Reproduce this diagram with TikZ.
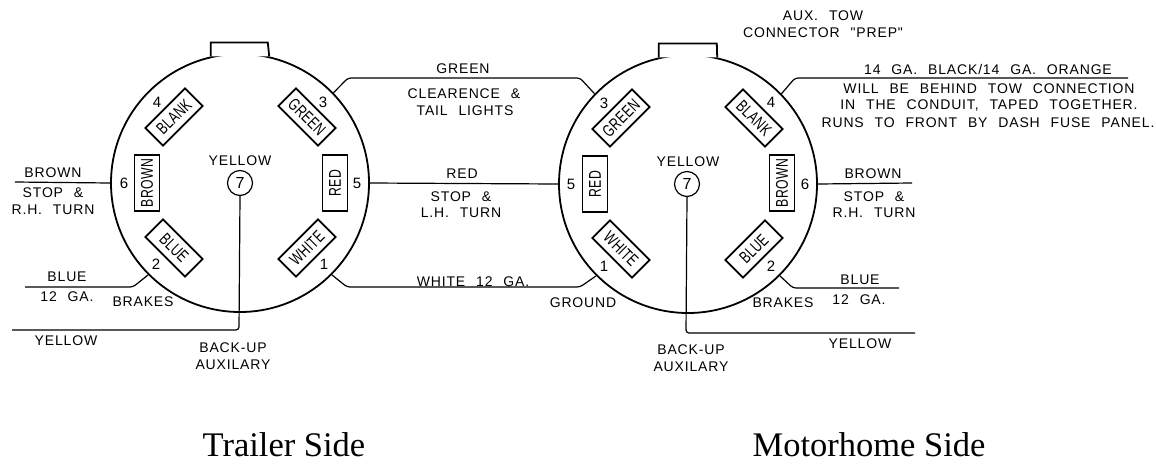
\documentclass[tikz,border=0pt]{standalone}
\usepackage{fontspec}
\setmainfont{Liberation Serif}
\newfontfamily\wirefont[LetterSpace=6,WordSpace=2.3]{Liberation Sans}
\newfontfamily\slotfont[FakeStretch=0.72,LetterSpace=2]{Liberation Sans}

\begin{document}
\begin{tikzpicture}[x=1pt,y=-1pt,line width=1.2pt]
	\tikzstyle{body} = [circle, draw=black, line width=1.8pt, minimum size=258pt, inner sep=0pt]
	\tikzstyle{slot} = [rectangle, draw=black, line width=1.8pt, minimum width=56pt, minimum height=25pt, inner sep=0pt, font=\slotfont\fontsize{17}{17}\selectfont]
	\tikzstyle{socket} = [circle, draw=black, minimum size=25pt, inner sep=0pt, font=\wirefont\fontsize{16}{16}\selectfont]
	\tikzstyle{num} = [inner sep=0pt, font=\wirefont\fontsize{15}{15}\selectfont]
	\tikzstyle{txt} = [inner sep=0pt, font=\wirefont\fontsize{14}{14}\selectfont]
	\tikzstyle{caption} = [inner sep=0pt, anchor=base, font=\fontsize{34.5}{34.5}\selectfont]
	\tikzstyle{wire} = [rounded corners=3pt]

	\useasboundingbox (0,0) rectangle (1156,464);

	% trailer side
	\node [body] (L) at (240,183) {};
	\draw [line width=1.8pt, fill=white] (L.103) -- ++(0,-14) -- ++(57,0) -- (L.77);

	\node [slot, rotate=45] (lblank) at (174,117) {BLANK};
	\node [slot, rotate=-45] (lgreen) at (307,117) {GREEN};
	\node [slot, rotate=90] (lbrown) at (147,183) {BROWN};
	\node [slot, rotate=90] (lred) at (335,183) {RED};
	\node [slot, rotate=-45] (lblue) at (174,248) {BLUE};
	\node [slot, rotate=45] (lwhite) at (307,248) {WHITE};
	\node [socket] (l7) at (240,183) {7};
	\node [txt] (lyellow) at (240,161) {YELLOW};

	\node [num] (l4) at (157,102) {4};
	\node [num] (l3) at (323,102) {3};
	\node [num] (l6) at (124,183) {6};
	\node [num] (l5) at (357,183) {5};
	\node [num] (l2) at (156,264) {2};
	\node [num] (l1) at (324,264) {1};

	% motorhome side
	\node [body] (R) at (688,184) {};
	\draw [line width=1.8pt, fill=white] (R.103) -- ++(0,-14) -- ++(58,0) -- (R.77);

	\node [slot, rotate=45] (rgreen) at (621,118) {GREEN};
	\node [slot, rotate=-45] (rblank) at (754,118) {BLANK};
	\node [slot, rotate=90] (rred) at (595,184) {RED};
	\node [slot, rotate=90] (rbrown) at (782,183) {BROWN};
	\node [slot, rotate=-45] (rwhite) at (621,249) {WHITE};
	\node [slot, rotate=45] (rblue) at (754,249) {BLUE};
	\node [socket] (r7) at (687,184) {7};
	\node [txt] (ryellow) at (688,162) {YELLOW};

	\node [num] (r3) at (604,103) {3};
	\node [num] (r4) at (771,102) {4};
	\node [num] (r5) at (571,184) {5};
	\node [num] (r6) at (805,184) {6};
	\node [num] (r1) at (604,266) {1};
	\node [num] (r2) at (771,266) {2};

	% wires between the two
	\coordinate (g1) at (348,78);
	\coordinate (g2) at (580,78);
	\draw [wire] (L.44) -- (g1) -- (g2) -- (R.136);
	\draw (L.0) -- (R.180);
	\coordinate (w1) at (347,287);
	\coordinate (w2) at (580,287);
	\draw [wire] (L.-45) -- (w1) -- (w2) -- (R.-135);

	% free ends, left
	\coordinate (lbrownend) at (15,182);
	\draw (L.180) -- (lbrownend);
	\coordinate (lblue1) at (133,287);
	\coordinate (lblueend) at (25,287);
	\draw [wire] (L.-135) -- (lblue1) -- (lblueend);
	\coordinate (lyel1) at (239,330);
	\coordinate (lyelend) at (12,330);
	\draw [wire] (l7.south) -- (lyel1) -- (lyelend);

	% free ends, right
	\coordinate (rblk1) at (795,78);
	\coordinate (rblkend) at (1128,78);
	\draw [wire] (R.44) -- (rblk1) -- (rblkend);
	\coordinate (rbrownend) at (912,183);
	\draw (R.0) -- (rbrownend);
	\coordinate (rblue1) at (793,288);
	\coordinate (rblueend) at (899,288);
	\draw [wire] (R.-45) -- (rblue1) -- (rblueend);
	\coordinate (ryel1) at (686,333);
	\coordinate (ryelend) at (915,333);
	\draw [wire] (r7.south) -- (ryel1) -- (ryelend);

	% texts
	\node [txt] (t1) at (53,173) {BROWN};
	\node [txt] (t2) at (53,193) {STOP \&};
	\node [txt] (t3) at (53,210) {R.H. TURN};
	\node [txt] (t4) at (67,277) {BLUE};
	\node [txt] (t5) at (67,297) {12 GA.};
	\node [txt] (t6) at (143,302) {BRAKES};
	\node [txt] (t7) at (66,341) {YELLOW};
	\node [txt] (t8) at (233,348) {BACK-UP};
	\node [txt] (t9) at (233,365) {AUXILARY};

	\node [txt] (t10) at (463,69) {GREEN};
	\node [txt] (t11) at (464,94) {CLEARENCE \&};
	\node [txt] (t12) at (465,111) {TAIL LIGHTS};
	\node [txt] (t13) at (462,174) {RED};
	\node [txt] (t14) at (461,197) {STOP \&};
	\node [txt] (t15) at (461,213) {L.H. TURN};
	\node [txt] (t16) at (473,282) {WHITE 12 GA.};
	\node [txt] (t17) at (583,303) {GROUND};

	\node [txt] (t18) at (823,16) {AUX. TOW};
	\node [txt] (t19) at (823,33) {CONNECTOR "PREP"};
	\node [txt] (t20) at (988,69) {14 GA. BLACK/14 GA. ORANGE};
	\node [txt] (t21) at (989,89) {WILL BE BEHIND TOW CONNECTION};
	\node [txt] (t22) at (989,106) {IN THE CONDUIT, TAPED TOGETHER.};
	\node [txt] (t23) at (988,123) {RUNS TO FRONT BY DASH FUSE PANEL.};
	\node [txt] (t24) at (873,174) {BROWN};
	\node [txt] (t25) at (874,197) {STOP \&};
	\node [txt] (t26) at (874,213) {R.H. TURN};
	\node [txt] (t27) at (860,280) {BLUE};
	\node [txt] (t28) at (859,300) {12 GA.};
	\node [txt] (t29) at (783,303) {BRAKES};
	\node [txt] (t30) at (860,344) {YELLOW};
	\node [txt] (t31) at (691,350) {BACK-UP};
	\node [txt] (t32) at (691,367) {AUXILARY};

	\node [caption] (trailer) at (284,456) {Trailer Side};
	\node [caption] (motorhome) at (869,456) {Motorhome Side};
\end{tikzpicture}
\end{document}
